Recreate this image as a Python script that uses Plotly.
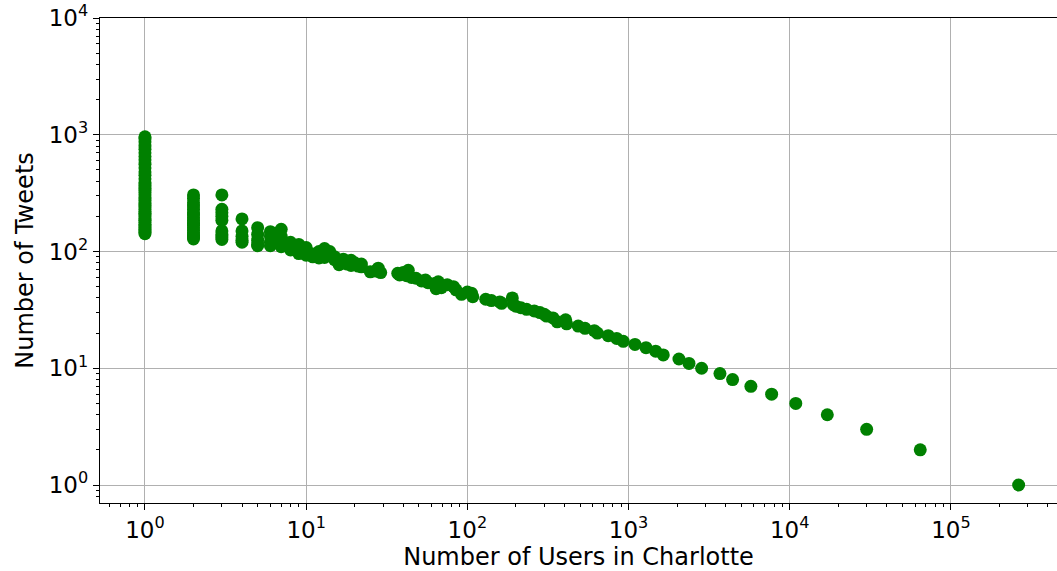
import plotly.graph_objects as go

# Column at 1 user
users_1 = [1] * 39
tweets_1 = [142, 146, 150, 155, 160, 165, 170, 178, 185, 190, 198, 205, 212, 220, 230, 240,
            250, 262, 275, 290, 305, 320, 335, 350, 370, 390, 420, 450, 480, 520, 560, 610,
            650, 700, 750, 800, 870, 920, 960]

users_2 = [2] * 17
tweets_2 = [128, 133, 138, 145, 152, 160, 168, 175, 185, 195, 205, 215, 230, 245, 262, 285, 305]

users_3 = [3] * 9
tweets_3 = [127, 133, 140, 150, 185, 200, 215, 230, 305]

users_mid = [4, 4, 4, 4, 4, 5, 5, 5, 5, 5, 6, 6, 6, 6, 7, 7, 7, 7, 8, 8, 8, 9, 9, 9,
             10, 10, 10, 11, 11, 12, 12, 12, 13, 13, 13, 14, 14, 15, 15, 16, 16, 17, 17,
             18, 19, 19, 20, 21, 22, 22, 25, 27, 28, 29, 37, 38, 40, 42, 43, 45, 48, 52,
             55, 57, 62, 64, 66, 69, 75, 82, 85, 92, 100, 106, 108, 130, 141, 159, 163,
             190, 193, 200, 215, 233, 260, 282, 300, 310, 340]
tweets_mid = [190, 150, 135, 125, 120, 160, 140, 125, 115, 112, 148, 135, 120, 112, 155, 135,
              122, 110, 120, 110, 103, 115, 100, 96, 108, 98, 93, 95, 90, 100, 92, 88, 106,
              95, 89, 100, 92, 90, 85, 82, 77, 86, 80, 78, 84, 76, 80, 75, 78, 74, 67, 68,
              72, 66, 65, 63, 66, 62, 69, 60, 59, 56, 57, 54, 53, 48, 55, 49, 52, 50, 47,
              43, 45, 44, 41, 39, 38, 37, 36, 40, 35, 34, 33, 32, 31, 30, 29, 28, 27]

users_tail = [361, 407, 413, 487, 537, 613, 640, 748, 844, 927, 1096, 1283, 1473, 1642, 2054,
              2371, 2840, 3690, 4420, 5740, 7720, 10900, 17100, 30000, 64500, 263000]
tweets_tail = [25, 26, 24, 23, 22, 21, 20, 19, 18, 17, 16, 15, 14, 13, 12, 11, 10, 9, 8, 7,
               6, 5, 4, 3, 2, 1]

users = users_1 + users_2 + users_3 + users_mid + users_tail
tweets = tweets_1 + tweets_2 + tweets_3 + tweets_mid + tweets_tail

x_tick_vals = [1, 10, 100, 1000, 10000, 100000]
x_tick_text = ["10<sup>0</sup>", "10<sup>1</sup>", "10<sup>2</sup>", "10<sup>3</sup>",
               "10<sup>4</sup>", "10<sup>5</sup>"]
y_tick_vals = [1, 10, 100, 1000, 10000]
y_tick_text = ["10<sup>0</sup>", "10<sup>1</sup>", "10<sup>2</sup>", "10<sup>3</sup>",
               "10<sup>4</sup>"]

x_minor = [k * 10.0 ** d for d in range(-1, 6) for k in range(2, 10)]
y_minor = [k * 10.0 ** d for d in range(-1, 4) for k in range(2, 10)]

fig = go.Figure()
fig.add_trace(go.Scatter(
    x=users, y=tweets, mode="markers",
    marker=dict(color="#008000", size=13, line=dict(width=0)),
    showlegend=False,
))

font_family = "DejaVu Sans"
axis_common = dict(
    type="log",
    showline=True, linecolor="black", linewidth=1.3, mirror=True,
    showgrid=True, gridcolor="#b0b0b0", gridwidth=1,
    ticks="outside", ticklen=6, tickwidth=1.2, tickcolor="black",
    tickfont=dict(family=font_family, size=23, color="black"),
    zeroline=False,
)

fig.update_xaxes(
    **axis_common,
    range=[-0.279, 5.658],
    tickvals=x_tick_vals, ticktext=x_tick_text,
    minor=dict(tickmode="array", tickvals=x_minor, ticks="outside", ticklen=3,
               tickwidth=1, tickcolor="black", showgrid=False),
    title=dict(text="Number of Users in Charlotte",
               font=dict(family=font_family, size=24, color="black"), standoff=3),
)
fig.update_yaxes(
    **axis_common,
    range=[-0.154, 4.0],
    tickvals=y_tick_vals, ticktext=y_tick_text,
    minor=dict(tickmode="array", tickvals=y_minor, ticks="outside", ticklen=3,
               tickwidth=1, tickcolor="black", showgrid=False),
    title=dict(text="Number of Tweets",
               font=dict(family=font_family, size=24, color="black"), standoff=8),
)

fig.update_layout(
    width=1057, height=571,
    margin=dict(l=100, r=0, t=18, b=68),
    plot_bgcolor="white", paper_bgcolor="white",
)

fig.write_html("out.html")
